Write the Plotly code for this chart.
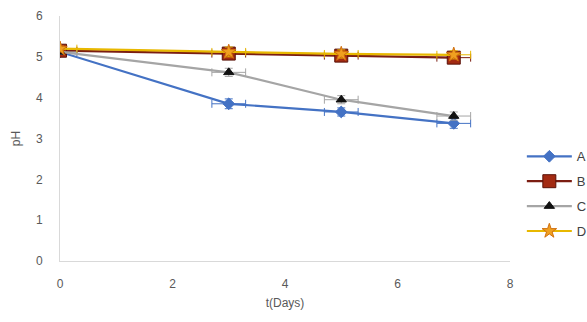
import plotly.graph_objects as go

t = [0, 3, 5, 7]
ph_A = [5.12, 3.85, 3.65, 3.37]
ph_B = [5.15, 5.08, 5.03, 4.98]
ph_C = [5.12, 4.62, 3.95, 3.55]
ph_D = [5.2, 5.12, 5.07, 5.05]
err_x = [0.3, 0.3, 0.3, 0.3]
err_A = [0.08, 0.12, 0.1, 0.12]
err_B = [0.06, 0.1, 0.1, 0.1]
err_C = [0.06, 0.1, 0.1, 0.1]
err_D = [0.06, 0.12, 0.1, 0.1]
names = ["A", "B", "C", "D"]

series = [
    (ph_A, err_A, "#4472C4", "#4472C4", "diamond", 9, "#4472C4"),
    (ph_B, err_B, "#7B1D12", "#A32A12", "square", 13, "#5a1208"),
    (ph_C, err_C, "#A5A5A5", "#111111", "triangle-up", 9, "#111111"),
    (ph_D, err_D, "#E8B800", "#F0A020", "star", 11, "#D07010"),
]

fig = go.Figure()
for name, (y, ey, lc, mc, sym, ms, mlc) in zip(names, series):
    fig.add_trace(go.Scatter(
        x=t, y=y, name=name, mode="lines+markers", legendgroup=name,
        line=dict(color=lc, width=2.2),
        marker=dict(symbol=sym, size=ms, color=mc, line=dict(color=mlc, width=1)),
        error_x=dict(type="data", array=err_x, color=lc, thickness=1, width=4),
        error_y=dict(type="data", array=ey, color=lc, thickness=1, width=4),
    ))

fig.update_layout(
    width=587, height=322,
    margin=dict(l=60, r=77, t=16, b=61),
    paper_bgcolor="white", plot_bgcolor="white",
    font=dict(family="Liberation Sans, Arial, sans-serif", size=12, color="#595959"),
    showlegend=True,
    legend=dict(xref="container", yref="container", x=0.889, xanchor="left",
                y=0.398, yanchor="middle",
                font=dict(size=13, color="#404040"), tracegroupgap=5,
                itemwidth=45, bgcolor="rgba(0,0,0,0)"),
    xaxis=dict(range=[0, 8], tickvals=[0, 2, 4, 6, 8], showgrid=False, zeroline=False,
               showline=True, linecolor="#D9D9D9", linewidth=1, ticks="",
               automargin=False, ticklabelstandoff=12,
               title=dict(text="t(Days)", font=dict(size=12, color="#595959"), standoff=8)),
    yaxis=dict(range=[0, 6], tickvals=[0, 1, 2, 3, 4, 5, 6], showgrid=False, zeroline=False,
               showline=True, linecolor="#D9D9D9", linewidth=1, ticks="",
               automargin=False, ticklabelstandoff=14,
               title=dict(text="pH", font=dict(size=12, color="#595959"), standoff=12)),
)

fig.write_html("out.html", config={"displayModeBar": False},
               post_script="document.body.style.margin='0';document.body.style.overflow='hidden';")
